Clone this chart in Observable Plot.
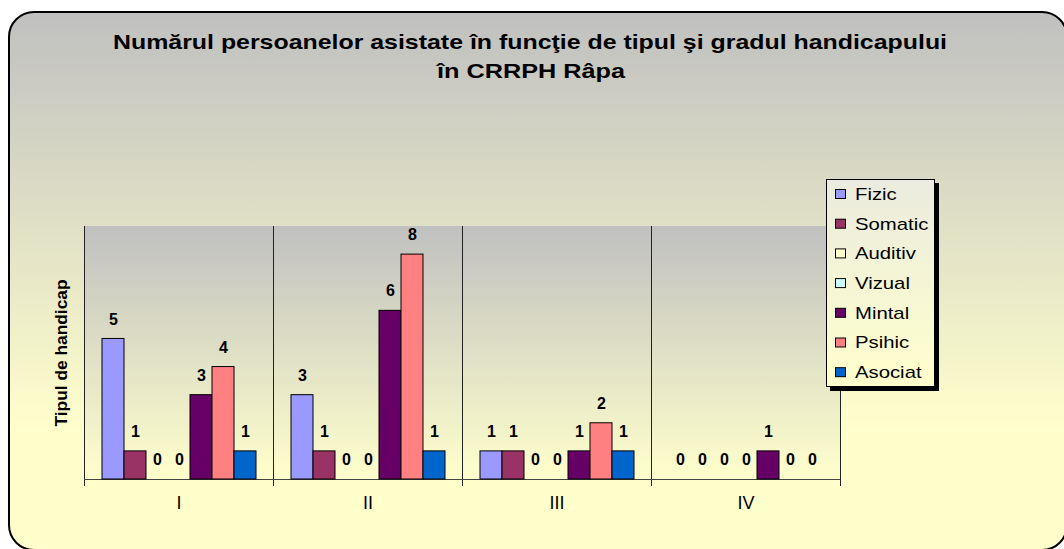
<!DOCTYPE html>
<html>
<head>
<meta charset="utf-8">
<script src="https://cdn.jsdelivr.net/npm/d3@7"></script>
<script src="https://cdn.jsdelivr.net/npm/@observablehq/plot@0.6"></script>
<style>
  html, body { margin: 0; padding: 0; background: #fff; }
  #wrap { position: relative; width: 1064px; height: 549px; overflow: hidden; }
  #box { position: absolute; left: 8px; top: 11px; width: 1060px; height: 540px;
         border: 2px solid #000; border-radius: 26px; box-sizing: border-box;
         background: linear-gradient(#c0c0c0 0%, #ffffcc 78%, #ffffcc 100%); }
  #chart { position: absolute; left: 0; top: 0; }
</style>
</head>
<body>
<div id="wrap"><div id="box"></div><div id="chart"></div></div>
<script>
const titleLines = ["Numărul persoanelor asistate în funcţie de tipul şi gradul handicapului", "în CRRPH Râpa"];
const yLabel = "Tipul de handicap";
const grades = ["I", "II", "III", "IV"];
const types = ["Fizic", "Somatic", "Auditiv", "Vizual", "Mintal", "Psihic", "Asociat"];
const colors = ["#9999ff", "#993366", "#ffffcc", "#ccffff", "#660066", "#ff8080", "#0066cc"];
const fizic   = [5, 3, 1, 0];
const somatic = [1, 1, 1, 0];
const auditiv = [0, 0, 0, 0];
const vizual  = [0, 0, 0, 0];
const mintal  = [3, 6, 1, 1];
const psihic  = [4, 8, 2, 0];
const asociat = [1, 1, 1, 0];
const series = [fizic, somatic, auditiv, vizual, mintal, psihic, asociat];

const rows = [];
grades.forEach((g, gi) => types.forEach((t, ti) => rows.push({g, t, v: series[ti][gi]})));

const W = 1064, H = 549, ML = 84, MR = 224, MT = 226, MB = 70;
const FONT = "'Liberation Sans', Arial, sans-serif";

const plot = Plot.plot({
  width: W, height: H,
  marginLeft: ML, marginRight: MR, marginTop: MT, marginBottom: MB,
  style: {background: "transparent", fontFamily: FONT, color: "#000", overflow: "visible"},
  fx: {domain: grades, padding: 0, label: null},
  x: {domain: types, paddingInner: 0, paddingOuter: 0.74, axis: null},
  y: {domain: [0, 9], axis: null},
  color: {domain: types, range: colors},
  marks: [
    Plot.frame({anchor: "left", stroke: "#222", insetBottom: -6}),
    Plot.frame({anchor: "right", stroke: "#222", insetBottom: -6, facet: "super"}),
    Plot.ruleY([0], {stroke: "#444"}),
    Plot.barY(rows.filter(d => d.v > 0), {fx: "g", x: "t", y: "v", fill: "t", stroke: "#000", strokeWidth: 1}),
    Plot.text(rows, {fx: "g", x: "t", y: "v", text: d => String(d.v), dy: -19.5, fontSize: 16, fontWeight: "bold", fill: "#000"}),
    Plot.axisFx({anchor: "bottom", tickSize: 0, tickPadding: 17, fontSize: 18, label: null})
  ]
});

document.getElementById("chart").appendChild(plot);
const svg = d3.select(plot);
const defs = svg.insert("defs", ":first-child");
const g1 = defs.append("linearGradient").attr("id", "paGrad").attr("x1", 0).attr("y1", 0).attr("x2", 0).attr("y2", 1);
g1.append("stop").attr("offset", "0%").attr("stop-color", "#c0c0c0");
g1.append("stop").attr("offset", "100%").attr("stop-color", "#ffffcc");
const g2 = defs.append("linearGradient").attr("id", "lgGrad").attr("x1", 0).attr("y1", 0).attr("x2", 0).attr("y2", 1);
g2.append("stop").attr("offset", "0%").attr("stop-color", "#ebebdf");
g2.append("stop").attr("offset", "100%").attr("stop-color", "#ffffcc");

// plot area background
svg.insert("rect", "defs + *")
  .attr("x", ML).attr("y", MT).attr("width", W - ML - MR).attr("height", H - MT - MB)
  .attr("fill", "url(#paGrad)");

// title
const tg = svg.append("g").attr("font-family", FONT).attr("font-weight", "bold").attr("font-size", 21).attr("text-anchor", "middle");
tg.append("text").attr("x", 530).attr("y", 49).attr("textLength", 834).attr("lengthAdjust", "spacingAndGlyphs").text(titleLines[0]);
tg.append("text").attr("x", 531).attr("y", 78).attr("textLength", 188).attr("lengthAdjust", "spacingAndGlyphs").text(titleLines[1]);

// y label
svg.append("text").attr("font-family", FONT).attr("font-weight", "bold").attr("font-size", 16)
  .attr("text-anchor", "middle").attr("transform", "translate(67,353) rotate(-90)")
  .attr("textLength", 147).attr("lengthAdjust", "spacingAndGlyphs").text(yLabel);

// legend
const lg = svg.append("g").attr("font-family", FONT).attr("font-size", 16).attr("text-anchor", "start");
lg.append("rect").attr("x", 830).attr("y", 183).attr("width", 109).attr("height", 208).attr("fill", "#000");
lg.append("rect").attr("x", 826.5).attr("y", 179.5).attr("width", 108).attr("height", 207).attr("fill", "url(#lgGrad)").attr("stroke", "#000");
types.forEach((t, i) => {
  const cy = 194 + i * 29.7;
  lg.append("rect").attr("x", 835.5).attr("y", cy - 4.5).attr("width", 10).attr("height", 9).attr("fill", colors[i]).attr("stroke", "#000");
  lg.append("text").attr("text-anchor", "start").attr("transform", `translate(855,${cy + 5.8}) scale(1.27,1)`).text(t);
});
</script>
</body>
</html>
